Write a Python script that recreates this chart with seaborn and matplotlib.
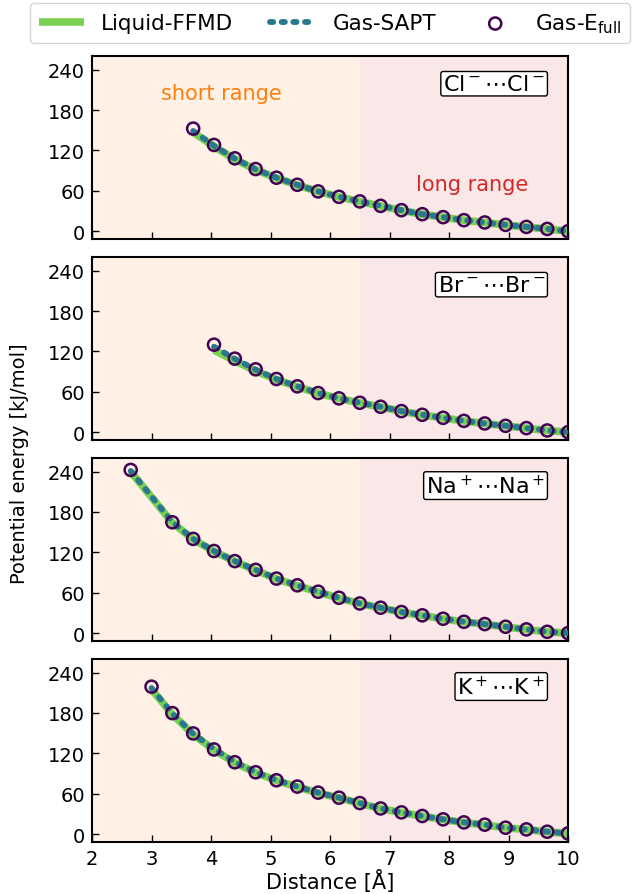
import numpy as np
import pandas as pd
import matplotlib
matplotlib.use("Agg")
import matplotlib.pyplot as plt
import seaborn as sns

# ---------------- data ----------------
x_cl = [3.7, 4.05, 4.4, 4.75, 5.1, 5.45, 5.8, 6.15, 6.5, 6.85, 7.2, 7.55, 7.9, 8.25, 8.6, 8.95, 9.3, 9.65, 10.0]
efull_cl = [152.5, 128.2, 108.3, 92.4, 79.5, 69.0, 59.2, 51.1, 44.3, 37.7, 31.3, 25.3, 20.9, 16.4, 13.0, 9.4, 6.4, 3.4, 0.0]
sapt_cl = [149.0, 127.0, 108.0, 92.0, 79.5, 69.0, 59.2, 51.1, 44.3, 37.7, 31.3, 25.3, 20.9, 16.4, 13.0, 9.4, 6.4, 3.4, 0.0]
ffmd_cl = [147.0, 126.0, 107.0, 91.5, 79.0, 68.5, 59.0, 51.0, 44.0, 37.5, 31.0, 25.2, 20.8, 16.3, 12.9, 9.3, 6.3, 3.3, 0.0]

x_br = [4.05, 4.4, 4.75, 5.1, 5.45, 5.8, 6.15, 6.5, 6.85, 7.2, 7.55, 7.9, 8.25, 8.6, 8.95, 9.3, 9.65, 10.0]
efull_br = [130.0, 109.2, 93.4, 79.0, 68.1, 58.1, 50.2, 43.7, 37.7, 31.3, 25.8, 21.3, 16.8, 12.9, 9.4, 6.0, 2.5, 0.0]
sapt_br = [127.0, 109.0, 93.0, 79.0, 68.1, 58.1, 50.2, 43.7, 37.7, 31.3, 25.8, 21.3, 16.8, 12.9, 9.4, 6.0, 2.5, 0.0]
ffmd_br = [122.0, 106.0, 91.0, 78.0, 67.5, 57.8, 50.0, 43.5, 37.5, 31.1, 25.6, 21.1, 16.6, 12.8, 9.3, 5.9, 2.4, 0.0]

x_na = [2.65, 3.35, 3.7, 4.05, 4.4, 4.75, 5.1, 5.45, 5.8, 6.15, 6.5, 6.85, 7.2, 7.55, 7.9, 8.25, 8.6, 8.95, 9.3, 9.65, 10.0]
efull_na = [242.5, 164.7, 140.0, 122.0, 107.0, 94.0, 81.0, 71.0, 61.5, 52.5, 44.0, 37.7, 31.3, 26.4, 21.3, 16.8, 13.4, 9.4, 5.5, 1.9, 0.0]
sapt_na = [241.0, 165.0, 140.0, 122.0, 107.0, 94.0, 81.0, 71.0, 61.5, 52.5, 44.0, 37.7, 31.3, 26.4, 21.3, 16.8, 13.4, 9.4, 5.5, 1.9, 0.0]
ffmd_na = [240.0, 164.0, 139.5, 121.5, 106.5, 93.5, 80.5, 70.5, 61.0, 52.0, 43.8, 37.5, 31.1, 26.2, 21.1, 16.6, 13.2, 9.2, 5.4, 1.8, 0.0]

x_k = [3.0, 3.35, 3.7, 4.05, 4.4, 4.75, 5.1, 5.45, 5.8, 6.15, 6.5, 6.85, 7.2, 7.55, 7.9, 8.25, 8.6, 8.95, 9.3, 9.65, 10.0]
efull_k = [219.0, 179.7, 149.5, 125.7, 106.7, 91.8, 79.9, 70.5, 61.5, 54.0, 46.0, 38.0, 32.2, 26.8, 21.8, 17.3, 13.9, 9.4, 6.9, 3.4, 0.9]
sapt_k = [217.0, 179.0, 149.0, 126.5, 107.0, 92.0, 80.0, 70.5, 61.5, 54.0, 46.0, 38.0, 32.2, 26.8, 21.8, 17.3, 13.9, 9.4, 6.9, 3.4, 0.9]
ffmd_k = [215.0, 178.0, 148.0, 125.0, 106.0, 91.3, 79.5, 70.0, 61.0, 53.6, 45.6, 37.7, 31.9, 26.5, 21.5, 17.0, 13.6, 9.2, 6.7, 3.2, 0.6]

systems = [r"Cl$^-$$\cdots$Cl$^-$", r"Br$^-$$\cdots$Br$^-$",
           r"Na$^+$$\cdots$Na$^+$", r"K$^+$$\cdots$K$^+$"]
xs = [x_cl, x_br, x_na, x_k]
efulls = [efull_cl, efull_br, efull_na, efull_k]
sapts = [sapt_cl, sapt_br, sapt_na, sapt_k]
ffmds = [ffmd_cl, ffmd_br, ffmd_na, ffmd_k]

yticks = [0, 60, 120, 180, 240]
xticks = [2, 3, 4, 5, 6, 7, 8, 9, 10]

# ---------------- style ----------------
sns.set_style("ticks")
plt.rcParams['font.family'] = ['DejaVu Sans']
plt.rcParams['mathtext.fontset'] = 'dejavusans'
for k in ["text.color", "axes.labelcolor", "xtick.color", "ytick.color", "axes.edgecolor"]:
    plt.rcParams[k] = "black"

green = "#7ad151"
teal = "#2a788e"
purple = "#440154"

fig, axes = plt.subplots(4, 1, figsize=(6.39, 8.95), dpi=100, sharex=True)
fig.subplots_adjust(left=0.144, right=0.889, top=0.936, bottom=0.058, hspace=0.098)

for i, ax in enumerate(axes):
    ax.axvspan(2, 6.5, color="tab:orange", alpha=0.1, lw=0, zorder=0)
    ax.axvspan(6.5, 10, color="tab:red", alpha=0.1, lw=0, zorder=0)
    df = pd.DataFrame({"x": xs[i], "efull": efulls[i], "sapt": sapts[i], "ffmd": ffmds[i]})
    sns.lineplot(data=df, x="x", y="ffmd", ax=ax, color=green, lw=5.5,
                 label="Liquid-FFMD", zorder=2, solid_capstyle="butt")
    sns.lineplot(data=df, x="x", y="sapt", ax=ax, color=teal, lw=4.2,
                 linestyle=(0, (0.55, 1.45)), dash_capstyle="round",
                 label="Gas-SAPT", zorder=3)
    sns.scatterplot(data=df, x="x", y="efull", ax=ax, s=76, facecolor="none",
                    edgecolor=purple, linewidth=1.8, label=r"Gas-E$_{\mathrm{full}}$", zorder=4)
    ax.set_xlim(2, 10)
    ax.set_ylim(-12, 260)
    ax.set_yticks(yticks)
    ax.set_xticks(xticks)
    ax.tick_params(direction="in", length=5, width=1, labelsize=14, color="black",
                   bottom=True, left=True, top=False, right=False, pad=5)
    for sp in ax.spines.values():
        sp.set_linewidth(1.5)
        sp.set_color("black")
    ax.set_xlabel("")
    ax.set_ylabel("")
    ax.text(0.952, 0.85, systems[i], transform=ax.transAxes, ha="right", va="center",
            fontsize=16, bbox=dict(boxstyle="round,pad=0.1", fc="white", ec="black", lw=1))
    if ax.get_legend() is not None:
        ax.get_legend().remove()

axes[0].text(4.18, 205, "short range", color="tab:orange", fontsize=15, ha="center", va="center")
axes[0].text(8.39, 70, "long range", color="tab:red", fontsize=15, ha="center", va="center")

axes[-1].set_xlabel("Distance [Å]", fontsize=15, labelpad=1)
fig.text(0.031, 0.482, "Potential energy [kJ/mol]", rotation=90, ha="center", va="center", fontsize=14)

handles, labels = axes[0].get_legend_handles_labels()
fig.legend(handles, labels, loc="upper left", bbox_to_anchor=(0.047, 0.996, 0.939, 0.0),
           mode="expand", ncol=3, fontsize=15.5, handlelength=2.1, borderaxespad=0,
           frameon=True, fancybox=True)

fig.savefig("out.png", dpi=100)
